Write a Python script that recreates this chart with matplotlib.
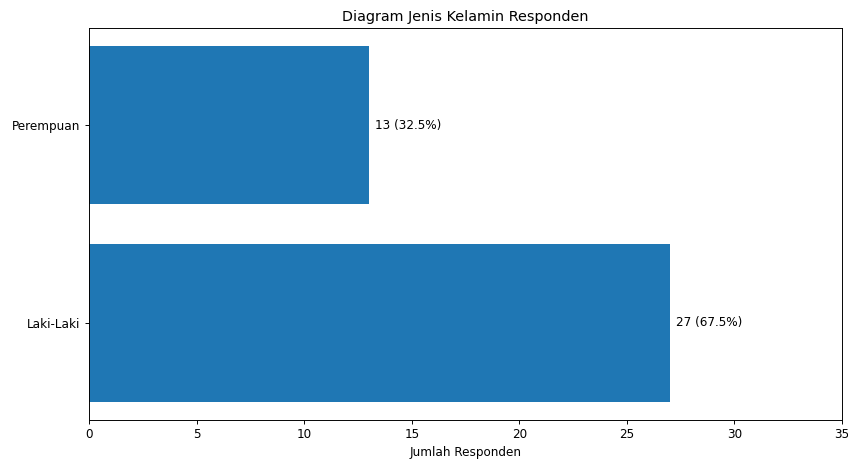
import matplotlib
matplotlib.use("Agg")
import matplotlib.pyplot as plt

# data
categories = ["Laki-Laki", "Perempuan"]
counts = [27, 13]
total = sum(counts)

DPI = 86
fig, ax = plt.subplots(figsize=(848 / DPI, 460 / DPI), dpi=DPI)
fig.subplots_adjust(left=0.105, right=0.993, top=0.939, bottom=0.087)

bars = ax.barh(categories, counts, color="#1f77b4")

# label each bar with count and percentage
for bar, c in zip(bars, counts):
    pct = c / total * 100
    ax.text(bar.get_width() + 0.3, bar.get_y() + bar.get_height() / 2,
            f"{c} ({pct:.1f}%)", va="center", ha="left")

ax.set_xlim(0, 35)
ax.set_title("Diagram Jenis Kelamin Responden")
ax.set_xlabel("Jumlah Responden")

fig.savefig("out.png", dpi=DPI)
